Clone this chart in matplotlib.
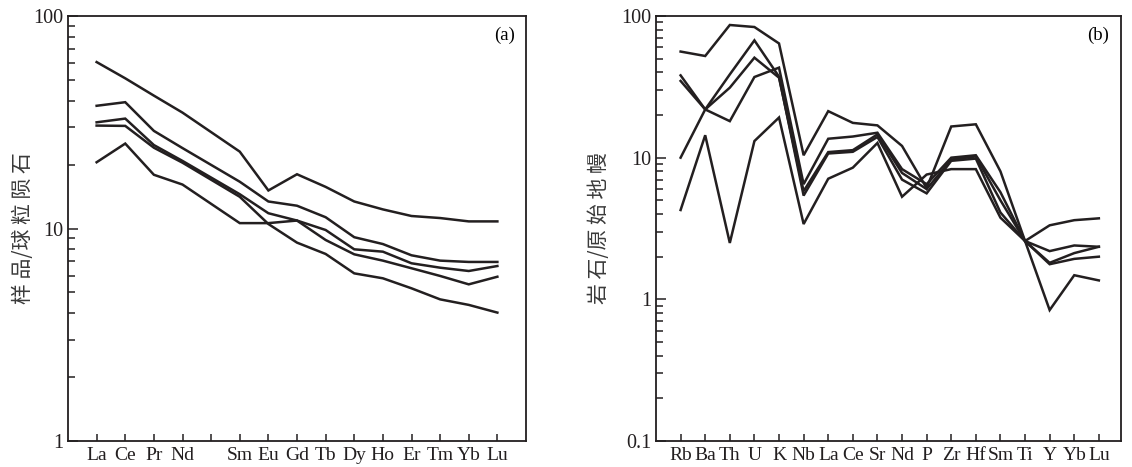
import matplotlib
matplotlib.use("Agg")
import matplotlib.pyplot as plt
from matplotlib.ticker import LogLocator, NullFormatter, FixedLocator

plt.rcParams['font.family'] = ['Liberation Serif', 'DejaVu Serif']

# ---- Panel (a): chondrite-normalised REE ----
ree_labels = ["La", "Ce", "Pr", "Nd", "", "Sm", "Eu", "Gd", "Tb", "Dy", "Ho", "Er", "Tm", "Yb", "Lu"]
ree_pos = [1, 2, 3, 4, 6, 7, 8, 9, 10, 11, 12, 13, 14, 15]  # Pm (5) has no data
ree_s1 = [60.7, 50.9, 42.2, 35.1, 23.0, 15.1, 18.0, 15.7, 13.4, 12.3, 11.45, 11.2, 10.8, 10.8]
ree_s2 = [37.8, 39.3, 28.8, 23.9, 16.6, 13.4, 12.8, 11.3, 9.1, 8.45, 7.48, 7.06, 6.96, 6.96]
ree_s3 = [31.6, 32.9, 24.7, 20.8, 14.5, 11.8, 10.9, 9.84, 7.98, 7.78, 6.86, 6.54, 6.31, 6.66]
ree_s4 = [30.5, 30.4, 24.0, 20.4, 14.1, 10.5, 8.58, 7.59, 6.15, 5.83, 5.23, 4.64, 4.37, 4.02]
ree_s5 = [20.5, 25.1, 17.9, 16.1, 10.6, 10.6, 10.9, 8.83, 7.56, 7.06, 6.50, 5.98, 5.46, 5.93]
ree_series = [ree_s1, ree_s2, ree_s3, ree_s4, ree_s5]

# ---- Panel (b): primitive-mantle-normalised spider diagram ----
spider_labels = ["Rb", "Ba", "Th", "U", "K", "Nb", "La", "Ce", "Sr", "Nd", "P", "Zr", "Hf", "Sm", "Ti", "Y", "Yb", "Lu"]
sp_a = [56.1, 52.2, 86.4, 83.6, 64.0, 10.4, 21.3, 17.6, 16.9, 12.1, 6.1, 16.6, 17.2, 8.0, 2.58, 3.33, 3.62, 3.73]
sp_b = [38.1, 21.9, 18.1, 37.1, 43.2, 6.5, 13.6, 14.1, 15.0, 8.3, 6.5, 10.0, 10.4, 5.7, 2.58, 2.19, 2.40, 2.35]
sp_c = [34.8, 21.9, 31.2, 50.8, 36.7, 5.8, 10.95, 11.3, 14.6, 7.8, 6.0, 9.7, 10.2, 5.0, 2.58, 1.81, 2.12, 2.35]
sp_d = [10.0, 21.9, 38.7, 67.3, 37.3, 5.4, 10.7, 11.0, 14.0, 7.0, 5.6, 9.5, 9.85, 4.1, 2.58, 1.77, 1.93, 2.0]
sp_e = [4.27, 14.4, 2.5, 13.1, 19.2, 3.4, 7.1, 8.5, 12.7, 5.3, 7.6, 8.3, 8.3, 3.77, 2.58, 0.84, 1.48, 1.36]
spider_series = [sp_a, sp_b, sp_c, sp_d, sp_e]

W, H = 1132, 467
fig = plt.figure(figsize=(W / 100, H / 100), dpi=100)

line_color = "#231f20"
lw = 1.8

def style_axes(ax):
    for s in ax.spines.values():
        s.set_linewidth(1.3)
        s.set_color(line_color)
    ax.tick_params(axis="both", which="both", direction="in", top=False, right=False,
                   colors=line_color, labelcolor="#231f20")
    ax.tick_params(axis="y", which="major", length=7, width=1.1, labelsize=14.5, pad=3)
    ax.tick_params(axis="y", which="minor", length=5, width=1.1)
    ax.tick_params(axis="x", which="major", length=5, width=1.1, labelsize=14, pad=4)
    ax.set_yscale("log")
    ax.yaxis.set_minor_locator(LogLocator(base=10, subs=range(2, 10)))
    ax.yaxis.set_minor_formatter(NullFormatter())

cjk = ["Noto Sans CJK SC", "DejaVu Sans"]

# Panel (a)
ax1 = fig.add_axes([68 / W, 26 / H, (526 - 68) / W, (441 - 16) / H])
for s in ree_series:
    ax1.plot(ree_pos, s, color=line_color, lw=lw, solid_joinstyle="miter")
style_axes(ax1)
ax1.set_xlim(0, 16)
ax1.set_ylim(1, 100)
ax1.xaxis.set_major_locator(FixedLocator(list(range(1, 16))))
ax1.set_xticklabels(ree_labels)
ax1.set_yticks([1, 10, 100])
ax1.set_yticklabels(["1", "10", "100"])
ax1.set_ylabel("样 品/球 粒 陨 石", family=cjk, fontsize=15, color="#3a3a3a")
ax1.yaxis.set_label_coords((34 - 68) / (526 - 68), 0.5)
ax1.text(0.975, 0.975, "(a)", transform=ax1.transAxes, ha="right", va="top", fontsize=13.5)

# Panel (b)
ax2 = fig.add_axes([656 / W, 26 / H, (1121 - 656) / W, (441 - 16) / H])
xs = list(range(1, len(spider_labels) + 1))
for s in spider_series:
    ax2.plot(xs, s, color=line_color, lw=lw, solid_joinstyle="miter")
style_axes(ax2)
ax2.set_xlim(0, 18.9)
ax2.set_ylim(0.1, 100)
ax2.xaxis.set_major_locator(FixedLocator(xs))
ax2.set_xticklabels(spider_labels)
ax2.set_yticks([0.1, 1, 10, 100])
ax2.set_yticklabels(["0.1", "1", "10", "100"])
ax2.set_ylabel("岩 石/原 始 地 幔", family=cjk, fontsize=15, color="#3a3a3a")
ax2.yaxis.set_label_coords((610 - 656) / (1121 - 656), 0.5)
ax2.text(0.975, 0.975, "(b)", transform=ax2.transAxes, ha="right", va="top", fontsize=13.5)

fig.savefig("out.png", dpi=100)
